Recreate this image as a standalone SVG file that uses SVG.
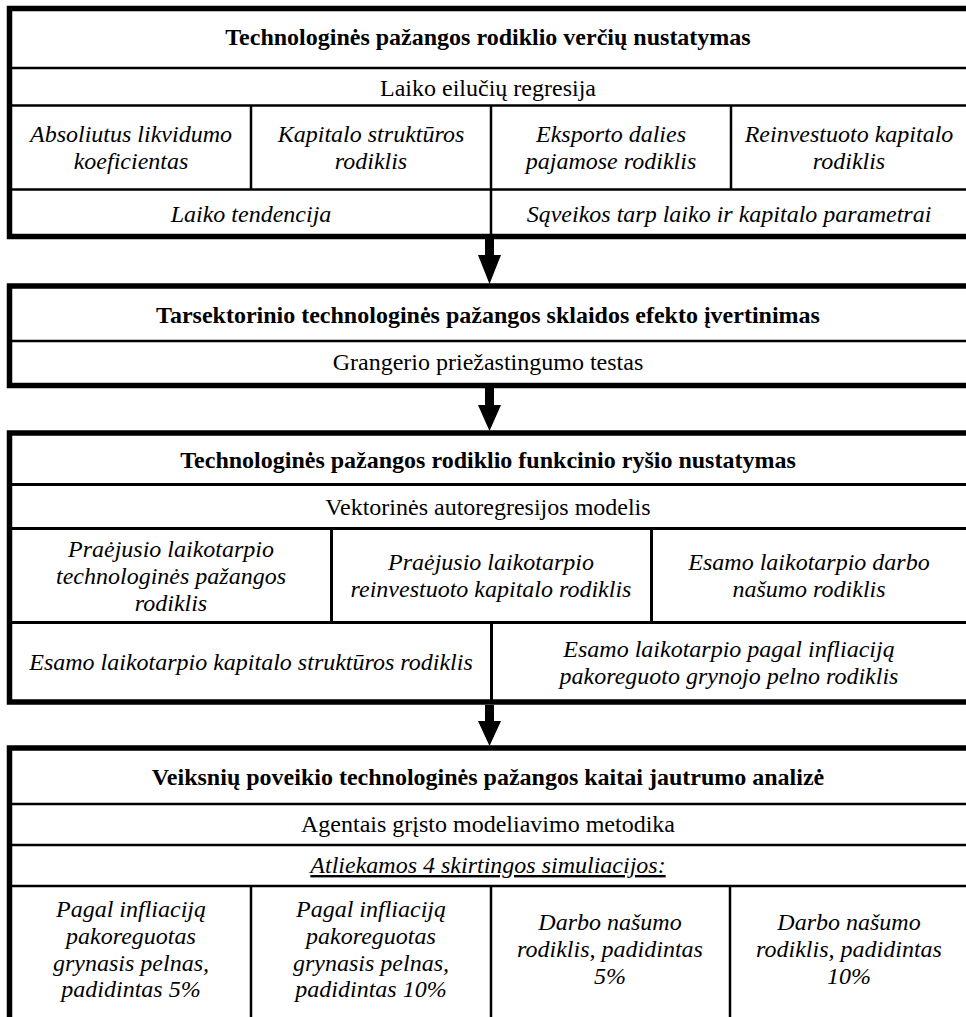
<svg xmlns="http://www.w3.org/2000/svg" width="966" height="1017" viewBox="0 0 966 1017">
<style>
text{font-family:"Liberation Serif","Times New Roman",serif;font-size:24px;fill:#000;text-anchor:middle}
.b{font-weight:bold}
.i{font-style:italic}
.frame{fill:#fff;stroke:#000;stroke-width:5.5}
.ln{stroke:#000;stroke-width:2.5;fill:none}
.ln3{stroke:#000;stroke-width:3;fill:none}
.arr{fill:#000;stroke:none}
</style>
<rect width="966" height="1017" fill="#fff"/>
<g id="box1">
<rect class="frame" x="9.5" y="8.5" width="970" height="228"/>
<line class="ln" x1="12" y1="68" x2="970" y2="68"/>
<line class="ln" x1="12" y1="105.5" x2="970" y2="105.5"/>
<line class="ln" x1="12" y1="189.5" x2="970" y2="189.5"/>
<line class="ln" x1="251" y1="105.5" x2="251" y2="189.5"/>
<line class="ln" x1="491" y1="105.5" x2="491" y2="236"/>
<line class="ln" x1="731" y1="105.5" x2="731" y2="189.5"/>
<text class="b" x="488" y="45">Technologinės pažangos rodiklio verčių nustatymas</text>
<text x="488" y="96">Laiko eilučių regresija</text>
<text class="i" x="131" y="141.5">Absoliutus likvidumo</text>
<text class="i" x="131" y="168.5">koeficientas</text>
<text class="i" x="371" y="141.5">Kapitalo struktūros</text>
<text class="i" x="371" y="168.5">rodiklis</text>
<text class="i" x="611" y="141.5">Eksporto dalies</text>
<text class="i" x="611" y="168.5">pajamose rodiklis</text>
<text class="i" x="849" y="141.5">Reinvestuoto kapitalo</text>
<text class="i" x="849" y="168.5">rodiklis</text>
<text class="i" x="251" y="222">Laiko tendencija</text>
<text class="i" x="729" y="222">Sąveikos tarp laiko ir kapitalo parametrai</text>
</g>
<g id="box2">
<rect class="frame" x="9.5" y="286" width="970" height="99.5"/>
<line class="ln" x1="12" y1="341" x2="970" y2="341"/>
<text class="b" x="488" y="323">Tarsektorinio technologinės pažangos sklaidos efekto įvertinimas</text>
<text x="488" y="370">Grangerio priežastingumo testas</text>
</g>
<g id="box3">
<rect class="frame" x="9.5" y="433" width="970" height="269"/>
<line class="ln3" x1="12" y1="484.5" x2="970" y2="484.5"/>
<line class="ln3" x1="12" y1="528.5" x2="970" y2="528.5"/>
<line class="ln3" x1="12" y1="622.5" x2="970" y2="622.5"/>
<line class="ln3" x1="331.5" y1="528.5" x2="331.5" y2="622.5"/>
<line class="ln3" x1="651.5" y1="528.5" x2="651.5" y2="622.5"/>
<line class="ln3" x1="491.5" y1="622.5" x2="491.5" y2="702"/>
<text class="b" x="488" y="468">Technologinės pažangos rodiklio funkcinio ryšio nustatymas</text>
<text x="488" y="515">Vektorinės autoregresijos modelis</text>
<text class="i" x="171" y="557">Praėjusio laikotarpio</text>
<text class="i" x="171" y="584">technologinės pažangos</text>
<text class="i" x="171" y="611">rodiklis</text>
<text class="i" x="491" y="570">Praėjusio laikotarpio</text>
<text class="i" x="491" y="597">reinvestuoto kapitalo rodiklis</text>
<text class="i" x="809" y="570">Esamo laikotarpio darbo</text>
<text class="i" x="809" y="597">našumo rodiklis</text>
<text class="i" x="251" y="670">Esamo laikotarpio kapitalo struktūros rodiklis</text>
<text class="i" x="729" y="657">Esamo laikotarpio pagal infliaciją</text>
<text class="i" x="729" y="684">pakoreguoto grynojo pelno rodiklis</text>
</g>
<g id="box4">
<rect class="frame" x="9.5" y="748" width="970" height="300"/>
<line class="ln" x1="12" y1="804" x2="970" y2="804"/>
<line class="ln" x1="12" y1="845" x2="970" y2="845"/>
<line class="ln" x1="12" y1="886" x2="970" y2="886"/>
<line class="ln" x1="251" y1="886" x2="251" y2="1017"/>
<line class="ln" x1="491" y1="886" x2="491" y2="1017"/>
<line class="ln" x1="730" y1="886" x2="730" y2="1017"/>
<text class="b" x="488" y="785">Veiksnių poveikio technologinės pažangos kaitai jautrumo analizė</text>
<text x="488" y="832">Agentais grįsto modeliavimo metodika</text>
<text class="i" x="488" y="873" text-decoration="underline">Atliekamos 4 skirtingos simuliacijos:</text>
<text class="i" x="131" y="917">Pagal infliaciją</text>
<text class="i" x="131" y="944">pakoreguotas</text>
<text class="i" x="131" y="971">grynasis pelnas,</text>
<text class="i" x="131" y="997">padidintas 5%</text>
<text class="i" x="371" y="917">Pagal infliaciją</text>
<text class="i" x="371" y="944">pakoreguotas</text>
<text class="i" x="371" y="971">grynasis pelnas,</text>
<text class="i" x="371" y="997">padidintas 10%</text>
<text class="i" x="610" y="930">Darbo našumo</text>
<text class="i" x="610" y="957">rodiklis, padidintas</text>
<text class="i" x="610" y="984">5%</text>
<text class="i" x="849" y="930">Darbo našumo</text>
<text class="i" x="849" y="957">rodiklis, padidintas</text>
<text class="i" x="849" y="984">10%</text>
</g>
<g id="connectors">
<polygon class="arr" points="485,239 494,239 494,255 501,255 489.5,284 478,255 485,255"/>
<polygon class="arr" points="485,388 494,388 494,405 501,405 489.5,431 478,405 485,405"/>
<polygon class="arr" points="485,705 494,705 494,721 501,721 489.5,746 478,721 485,721"/>
</g>
</svg>
